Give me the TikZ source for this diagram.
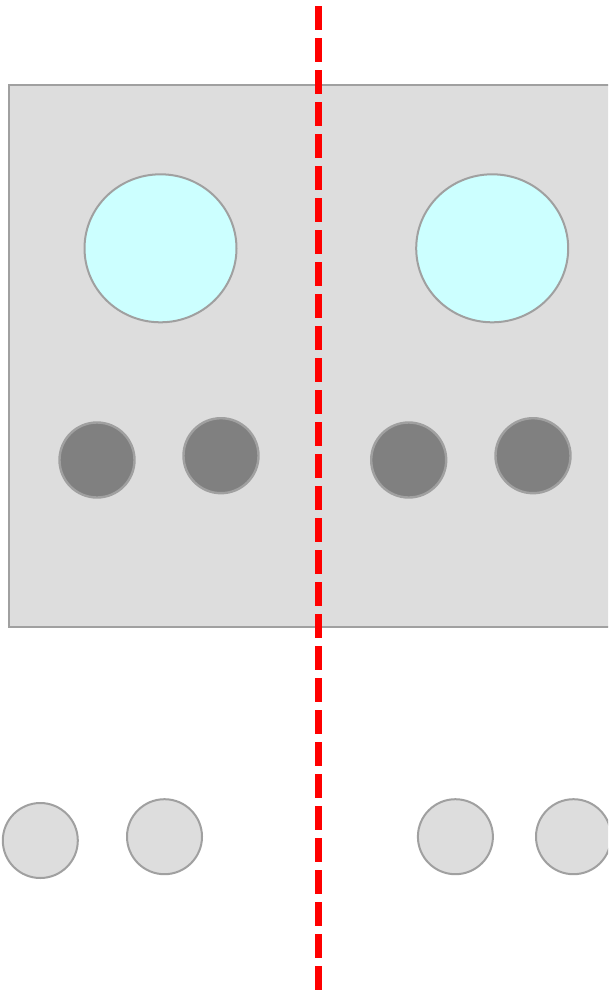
\documentclass[tikz,border=0pt]{standalone}
\usetikzlibrary{shapes.geometric}
\definecolor{boxgray}{HTML}{DDDDDD}
\definecolor{edgegray}{HTML}{A0A0A0}
\definecolor{darkdisk}{HTML}{808080}
\definecolor{cyanfill}{HTML}{CCFFFF}
\definecolor{cutred}{HTML}{FF0000}
\tikzset{
  panel/.style={fill=boxgray, draw=edgegray, line width=2pt},
  bigdisk/.style={ellipse, draw=edgegray, fill=cyanfill, line width=2pt, inner sep=0pt, minimum width=152pt, minimum height=148pt},
  darkdot/.style={circle, draw=edgegray, fill=darkdisk, line width=2.4pt, inner sep=0pt, minimum size=75pt},
  lightdot/.style={circle, draw=edgegray, fill=boxgray, line width=2pt, inner sep=0pt, minimum size=75pt},
  cutline/.style={draw=cutred, line width=7pt, dash pattern=on 24pt off 8pt}
}
\begin{document}
\begin{tikzpicture}[x=1pt,y=-1pt]
\useasboundingbox (0,0) rectangle (608,991);
\clip (0,0) rectangle (608,991);
\fill[white] (0,0) rectangle (608,991);
\draw[panel] (9,85) rectangle (620,627);
\node[bigdisk] (b1) at (160.5,248.3) {};
\node[bigdisk] (b2) at (492.2,248.3) {};
\node[darkdot] (d1) at (97,460) {};
\node[darkdot] (d2) at (221,455.7) {};
\node[darkdot] (d3) at (408.7,460) {};
\node[darkdot] (d4) at (533,455.7) {};
\node[lightdot] (l1) at (40.3,840.5) {};
\node[lightdot] (l2) at (164.5,836.7) {};
\node[lightdot] (l3) at (455.4,836.7) {};
\node[lightdot] (l4) at (573.5,836.7) {};
\coordinate (ctop) at (318,6);
\coordinate (cbot) at (318,991);
\draw[cutline] (ctop) -- (cbot);
\end{tikzpicture}
\end{document}
